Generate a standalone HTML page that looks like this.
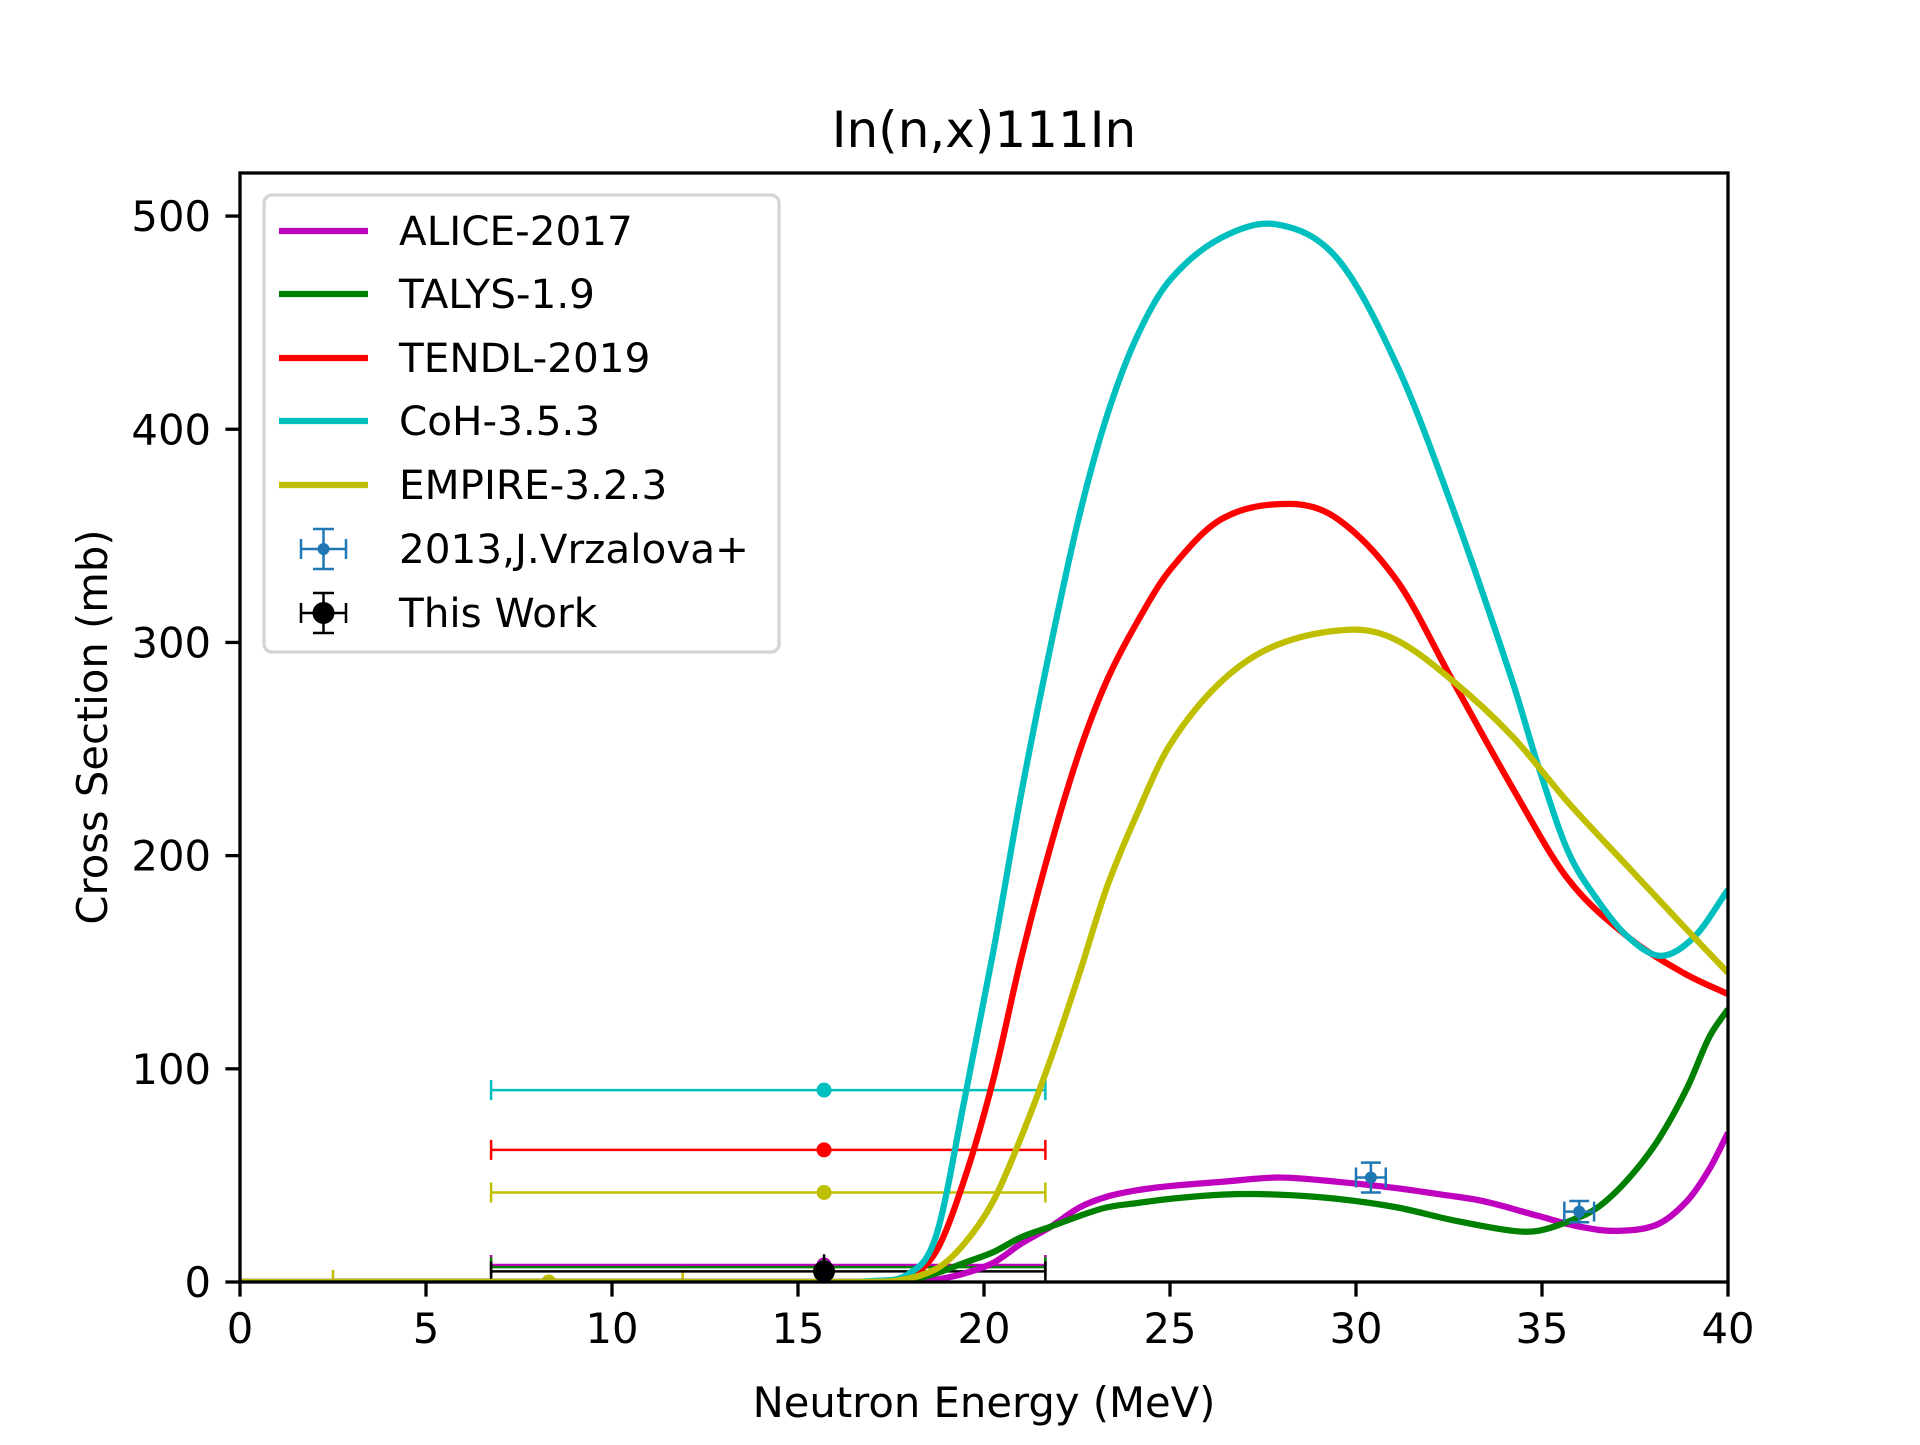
<!DOCTYPE html>
<html><head><meta charset="utf-8">
<style>
html,body{margin:0;padding:0;background:#fff;}
svg text{font-family:"DejaVu Sans","Liberation Sans",sans-serif;fill:#000;}
</style></head>
<body>
<svg id="chart" width="1920" height="1440" viewBox="0 0 1920 1440" xmlns="http://www.w3.org/2000/svg">
<rect width="1920" height="1440" fill="#fff"/>
<text x="984" y="147" font-size="50" text-anchor="middle">In(n,x)111In</text>
<g id="plot"></g>
<g id="axes"></g>
<text x="984" y="1417" font-size="41.7" text-anchor="middle">Neutron Energy (MeV)</text>
<text x="0" y="0" font-size="41.7" text-anchor="middle" transform="translate(107,727) rotate(-90)">Cross Section (mb)</text>
<g id="legend"></g>
</svg>
<script>
const xTicks=[0,5,10,15,20,25,30,35,40];
const yTicks=[0,100,200,300,400,500];
const cohE=[0,10,16,17,17.9,18.7,19.47,20.25,21,21.8,22.57,23.3,24.1,25,26.4,27.9,29.5,31.1,32.6,34.2,34.9,35.7,36.5,37.3,38.2,39.1,40];
const cohV=[0,0,0,0.5,3,21,85,155,229,299,360,406,443,470,490,496,480,430,363,282,242,202,179,162,153,162,184];
const tendlE=[0,10,16,17,17.9,18.7,19.47,20.25,21,21.8,22.57,23.3,24.1,25,26.4,28.2,29.5,31.1,32.6,34.2,35.7,37.3,38.8,40];
const tendlV=[0,0,0,0.3,2,14,48,95,152,205,249,282,309,334,358,365,358,329,282,232,189,162,145,135];
const empireE=[0,10,16,17.5,18.7,19.47,20.25,21,21.8,22.57,23.3,24.1,25,26.4,27.9,29.9,31.1,32.6,34.2,35.7,37.3,38.8,40];
const empireV=[0,0,0,0.3,6,18,38,68,105,145,185,219,252,282,299,306,301,282,256,225,195,167,145];
const aliceE=[0,10,17,18.3,18.7,19.47,20.25,21,21.8,22.57,23.3,24.1,25,26.4,27.9,29.5,31.1,32.3,33.4,34.9,36,37,38.1,38.9,39.5,40];
const aliceV=[0,0,0,0.2,1,4,9,18,26,35,40,43,45,47,49,47,44,41,38,31,26,24,27,38,53,70];
const talysE=[0,10,16.5,17.8,18.7,19.47,20.25,21,21.8,22.57,23.3,24.1,25,26.4,27.9,29.5,31.1,32.6,34.2,34.9,35.8,36.5,37.3,38.1,38.9,39.5,40];
const talysV=[0,0,0,0.3,4,9,14,21,26,31,35,37,39,41,41,39,35,29,24,24,29,35,48,66,91,115,128];
const modelPtE=[15.7,15.7,15.7,15.7,15.7];
const modelPtV=[90,62,42,8,7];
const modelColors=["#00bfbf","#ff0000","#bfbf00","#bf00bf","#008000"];
const vrzE=[30.4,36.0];
const vrzV=[49,33];
const vrzErr=[7,5];
const thisE=[15.7];
const thisV=[5];

const X0=240,X1=1728,Y0=1282,Y1=173,XMAX=40,YMAX=520.2;
function sx(e){return X0+(X1-X0)*e/XMAX;}
function sy(v){return Y0-(Y0-Y1)*v/YMAX;}
const NS="http://www.w3.org/2000/svg";
function mk(tag,attrs,parent){const el=document.createElementNS(NS,tag);for(const k in attrs)el.setAttribute(k,attrs[k]);parent.appendChild(el);return el;}
function smooth(E,V){
  const n=E.length,m=[];
  for(let i=0;i<n;i++){
    if(i==0)m.push((V[1]-V[0])/(E[1]-E[0]));
    else if(i==n-1)m.push((V[n-1]-V[n-2])/(E[n-1]-E[n-2]));
    else m.push((V[i+1]-V[i-1])/(E[i+1]-E[i-1]));
  }
  let d="M"+sx(E[0])+","+sy(V[0]);
  for(let i=0;i<n-1;i++){
    const h=E[i+1]-E[i];
    const c1e=E[i]+h/3,c1v=Math.max(0,V[i]+m[i]*h/3);
    const c2e=E[i+1]-h/3,c2v=Math.max(0,V[i+1]-m[i+1]*h/3);
    d+=" C"+sx(c1e)+","+sy(c1v)+" "+sx(c2e)+","+sy(c2v)+" "+sx(E[i+1])+","+sy(V[i+1]);
  }
  return d;
}
const plot=document.getElementById('plot');
const clip=mk('clipPath',{id:'cp'},plot);
mk('rect',{x:X0,y:Y1,width:X1-X0,height:Y0-Y1},clip);
const g=mk('g',{'clip-path':'url(#cp)'},plot);
for(let i=0;i<modelPtE.length;i++){
  const y=sy(modelPtV[i]);
  const bar=mk('path',{d:"M"+sx(6.75)+","+y+" H"+sx(21.65)+" M"+sx(6.75)+","+(y-10)+" V"+(y+10)+" M"+sx(21.65)+","+(y-10)+" V"+(y+10),stroke:modelColors[i],'stroke-width':2.5,fill:'none'},g);
  
  
  const dot=mk('circle',{cx:sx(modelPtE[i]),cy:y,r:7.5,fill:modelColors[i]},g);
  
  
}
const lb=mk('path',{d:"M"+sx(2.5)+","+sy(1)+" H"+sx(11.9)+" M"+sx(2.5)+","+(sy(1)-10)+" V"+(sy(1)+4)+" M"+sx(11.9)+","+(sy(1)-10)+" V"+(sy(1)+4),stroke:"#bfbf00",'stroke-width':2.5,fill:'none'},g);


mk('circle',{cx:sx(8.3),cy:sy(0),r:7.5,fill:"#bfbf00"},g);
const by=sy(thisV[0]);
const bb=mk('path',{d:"M"+sx(6.75)+","+by+" H"+sx(21.65)+" M"+sx(6.75)+","+(by-10)+" V"+(by+10)+" M"+sx(21.65)+","+(by-10)+" V"+(by+10)+" M"+sx(thisE[0])+","+sy(thisV[0]+8)+" V"+sy(0),stroke:"#000",'stroke-width':2.5,fill:'none'},g);


const series=[[aliceE,aliceV,"#bf00bf","alice-2017-line"],[talysE,talysV,"#008000","talys-1.9-line"],[tendlE,tendlV,"#ff0000","tendl-2019-line"],[cohE,cohV,"#00bfbf","coh-3.5.3-line"],[empireE,empireV,"#bfbf00","empire-3.2.3-line"]];
for(const s of series){
  const p=mk('path',{d:smooth(s[0],s[1]),stroke:s[2],'stroke-width':6.25,fill:'none','stroke-linejoin':'round'},g);
  
  
}
for(let i=0;i<vrzE.length;i++){
  const x=sx(vrzE[i]),y=sy(vrzV[i]),x1=sx(vrzE[i]-0.4),x2=sx(vrzE[i]+0.4),ya=sy(vrzV[i]+vrzErr[i]),yb=sy(vrzV[i]-vrzErr[i]);
  const e=mk('path',{d:"M"+x1+","+y+" H"+x2+" M"+x+","+ya+" V"+yb+" M"+(x-10)+","+ya+" H"+(x+10)+" M"+(x-10)+","+yb+" H"+(x+10)+" M"+x1+","+(y-10)+" V"+(y+10)+" M"+x2+","+(y-10)+" V"+(y+10),stroke:"#1f77b4",'stroke-width':2.5,fill:'none'},g);
  
  
  const c=mk('circle',{cx:x,cy:y,r:6,fill:"#1f77b4"},g);
  
  
}
const tw=mk('circle',{cx:sx(thisE[0]),cy:sy(thisV[0]),r:11,fill:"#000"},g);


const ax=document.getElementById('axes');
const frame=mk('rect',{x:X0,y:Y1,width:X1-X0,height:Y0-Y1,fill:'none',stroke:'#000','stroke-width':3.3},ax);


for(const t of xTicks){
  const x=sx(t);
  mk('line',{x1:x,y1:Y0,x2:x,y2:Y0+14.6,stroke:'#000','stroke-width':3.3},ax);
  const tx=mk('text',{x:x,y:Y0+61,'font-size':41.7,'text-anchor':'middle'},ax);
  tx.textContent=t;
  
  
}
for(const t of yTicks){
  const y=sy(t);
  mk('line',{x1:X0,y1:y,x2:X0-14.6,y2:y,stroke:'#000','stroke-width':3.3},ax);
  const ty=mk('text',{x:X0-29,y:y+15,'font-size':41.7,'text-anchor':'end'},ax);
  ty.textContent=t;
  
  
}
const lg=document.getElementById('legend');
const box=mk('rect',{x:264,y:195,width:515,height:457,rx:8,fill:'#fff','fill-opacity':0.8,stroke:'#d4d4d4','stroke-width':3.3},lg);


const labels=["ALICE-2017","TALYS-1.9","TENDL-2019","CoH-3.5.3","EMPIRE-3.2.3","2013,J.Vrzalova+","This Work"];
const lcol=["#bf00bf","#008000","#ff0000","#00bfbf","#bfbf00","#1f77b4","#000"];
const ly=[231,294,358,421,485,549,613];
for(let i=0;i<labels.length;i++){
  const y=ly[i];
  if(i<5){mk('line',{x1:279,y1:y,x2:368,y2:y,stroke:lcol[i],'stroke-width':6.25},lg);}
  else{
    const r=i==5?6:11;
    mk('path',{d:"M301,"+y+" H346 M323.5,"+(y-20)+" V"+(y+20)+" M313,"+(y-20)+" H334 M313,"+(y+20)+" H334 M301,"+(y-10)+" V"+(y+10)+" M346,"+(y-10)+" V"+(y+10),stroke:lcol[i],'stroke-width':2.5,fill:'none'},lg);
    mk('circle',{cx:323.5,cy:y,r:r,fill:lcol[i]},lg);
  }
  const t=mk('text',{x:399,y:y+14,'font-size':40.5},lg);
  t.textContent=labels[i];
  
  
}
</script>
</body></html>
